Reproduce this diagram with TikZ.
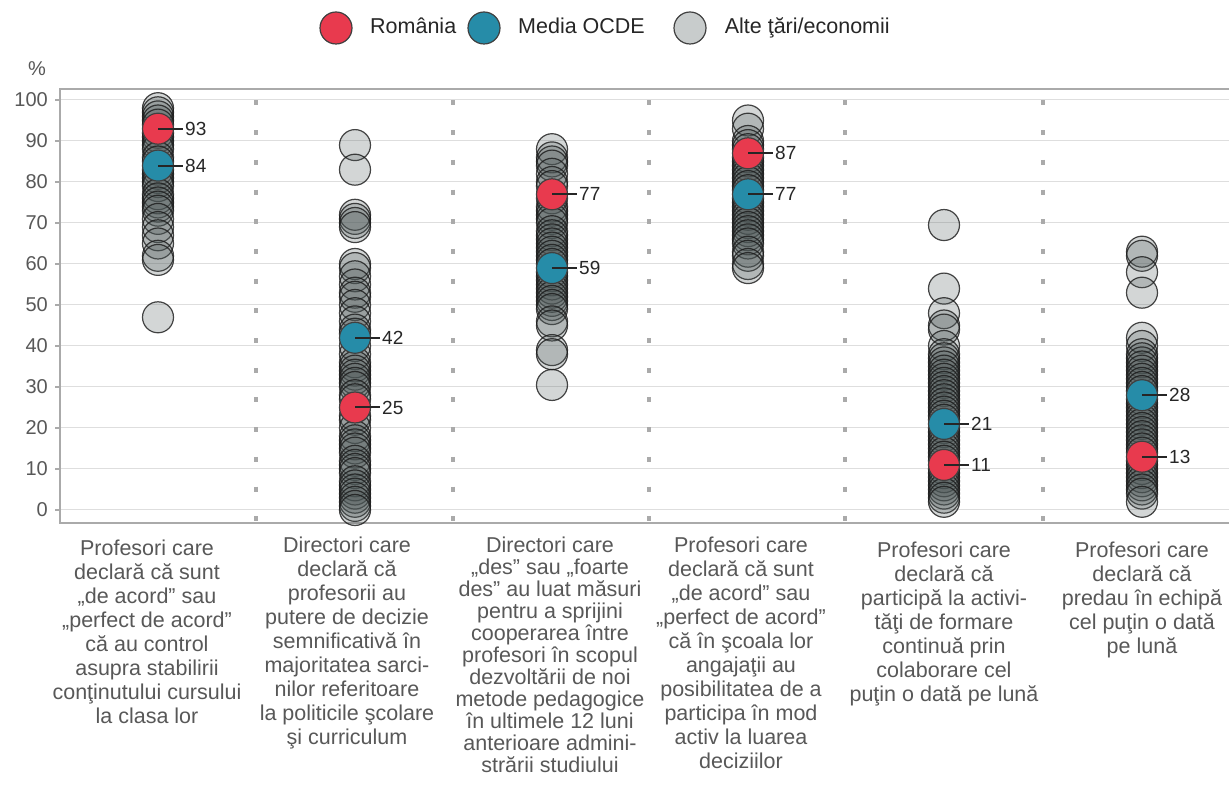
\documentclass[tikz,border=0pt]{standalone}
\usepackage{fontspec}
\setmainfont{Liberation Sans}
\usetikzlibrary{positioning}

\definecolor{rored}{RGB}{232,58,78}
\definecolor{oecdblue}{RGB}{38,140,168}
\definecolor{othgray}{RGB}{75,85,85}
\definecolor{leggray}{RGB}{200,204,204}
\definecolor{txtgray}{RGB}{88,88,88}
\definecolor{gridgray}{RGB}{222,222,222}
\definecolor{framegray}{RGB}{170,170,170}

\begin{document}
\begin{tikzpicture}[x=1pt, y=1pt,
  other/.style={circle, minimum size=31pt, inner sep=0pt, outer sep=0pt, fill=othgray, fill opacity=0.24, draw=black!90, draw opacity=0.8, line width=1.2pt},
  ro/.style={circle, minimum size=31pt, inner sep=0pt, outer sep=0pt, fill=rored, draw=black!75, line width=1.2pt},
  oecd/.style={circle, minimum size=31pt, inner sep=0pt, outer sep=0pt, fill=oecdblue, draw=black!75, line width=1.2pt},
  legdot/.style={minimum size=32pt},
  legtxt/.style={font=\fontsize{21.5}{24}\selectfont, text=black!85, inner sep=0pt, text height=15pt, text depth=4pt},
  val/.style={font=\fontsize{19}{22}\selectfont, text=black!85, inner sep=2pt},
  valline/.style={line width=2pt, black!85},
  ylab/.style={font=\fontsize{20}{24}\selectfont, text=txtgray, anchor=east, inner sep=0pt},
  catlab/.style={font=\fontsize{21.5}{24}\selectfont, text=txtgray, align=center, anchor=north, inner sep=0pt},
  gridline/.style={gridgray, line width=1pt},
  plotframe/.style={framegray, line width=1.5pt},
  dotsep/.style={framegray, line width=4pt, dash pattern=on 5pt off 24.7pt}
]
\useasboundingbox (0,0) rectangle (1229,793);
\fill[white] (0,0) rectangle (1229,793);

% legend
\node[ro, legdot] (legro) at (336,765) {};
\node[legtxt, right=18pt of legro] (legrot) {România};
\node[oecd, legdot] (legoecd) at (484,765) {};
\node[legtxt, right=18pt of legoecd] (legoecdt) {Media OCDE};
\node[circle, legdot, inner sep=0pt, fill=leggray, draw=black!75, line width=1.2pt] (legoth) at (690,765) {};
\node[legtxt, right=18pt of legoth] (legotht) {Alte ţări/economii};

\node[ylab, anchor=center] (pct) at (37,724) {\%};

% axes and grid
\begin{scope}[y=4.1pt, yshift=283pt]
  \foreach \v in {0,10,...,100} {
    \draw[gridline] (60,\v) -- (1229,\v);
    \draw[plotframe] (55,\v) -- (60,\v);
    \node[ylab] (ylab\v) at (48,\v) {\v};
  }
\end{scope}
\draw[plotframe] (1229,704) -- (60,704) -- (60,270) -- (1229,270);
\foreach \sx in {256,453,649,845,1043}
  \draw[dotsep] (\sx,692.5) -- (\sx,272);

% other countries
\begin{scope}[y=4.1pt, yshift=283pt]
  \foreach \v [count=\i] in {98,97,96,95,94,92,91,90,89,88,86,85,83,82,81,80,79,77,76,75,74,73,71,69,67,65,62,61,47}
    \node[other] (a\i) at (158,\v) {};
  \foreach \v [count=\i] in {89,83,72,71,70,69,60,59,57,55,53,52,50,48,46,44,43,40,38,36,35,34,33,32,31,30,28,27,23,22,20,18,17,16,15,14,12,11,10,9,7,6,5,4,3,2,1,0}
    \node[other] (b\i) at (355,\v) {};
  \foreach \v [count=\i] in {88,86,85,84,82,80,79,76,74,73,72,71,70,68,67,66,65,64,63,62,61,60,58,57,56,55,54,53,52,51,50,49,46,45,39,38,30.5}
    \node[other] (c\i) at (552,\v) {};
  \foreach \v [count=\i] in {95,93,90,89,88,86,85,84,83,82,81,80,79,78,76,75,74,73,72,71,70,69,68,67,66,65,63,62,60,59}
    \node[other] (d\i) at (748,\v) {};
  \foreach \v [count=\i] in {69.5,54,48,45,44,40,38,37,36,35,34,33,32,31,30,29,28,27,26,25,24,23,22,20,19,18,17,16,15,14,13,12,10,9,8,7,6,5,4,3,2}
    \node[other] (e\i) at (944,\v) {};
  \foreach \v [count=\i] in {63,62,58,53,42,40,38,37,36,35,34,33,32,31,30,29,27,26,25,24,23,22,21,20,19,18,17,16,15,14,12,11,10,9,8,7,6,5,4,2}
    \node[other] (f\i) at (1142,\v) {};

  % Romania and OECD
  \node[ro] (ro1) at (158,93) {};
  \node[oecd] (oecd1) at (158,84) {};
  \node[oecd] (oecd2) at (355,42) {};
  \node[ro] (ro2) at (355,25) {};
  \node[ro] (ro3) at (552,77) {};
  \node[oecd] (oecd3) at (552,59) {};
  \node[ro] (ro4) at (748,87) {};
  \node[oecd] (oecd4) at (748,77) {};
  \node[oecd] (oecd5) at (944,21) {};
  \node[ro] (ro5) at (944,11) {};
  \node[oecd] (oecd6) at (1142,28) {};
  \node[ro] (ro6) at (1142,13) {};

  \node[val, right=25pt of ro1.center] (ro1v) {93};
  \node[val, right=25pt of oecd1.center] (oecd1v) {84};
  \node[val, right=25pt of oecd2.center] (oecd2v) {42};
  \node[val, right=25pt of ro2.center] (ro2v) {25};
  \node[val, right=25pt of ro3.center] (ro3v) {77};
  \node[val, right=25pt of oecd3.center] (oecd3v) {59};
  \node[val, right=25pt of ro4.center] (ro4v) {87};
  \node[val, right=25pt of oecd4.center] (oecd4v) {77};
  \node[val, right=25pt of oecd5.center] (oecd5v) {21};
  \node[val, right=25pt of ro5.center] (ro5v) {11};
  \node[val, right=25pt of oecd6.center] (oecd6v) {28};
  \node[val, right=25pt of ro6.center] (ro6v) {13};

  \foreach \m in {ro1,oecd1,oecd2,ro2,ro3,oecd3,ro4,oecd4,oecd5,ro5,oecd6,ro6}
    \draw[valline] (\m.center) -- (\m v.west);
\end{scope}

% category labels
\node[catlab] (cat1) at (147,253) {Profesori care\\declară că sunt\\„de acord” sau\\„perfect de acord”\\că au control\\asupra stabilirii\\conţinutului cursului\\la clasa lor};
\node[catlab] (cat2) at (347,256) {Directori care\\declară că\\profesorii au\\putere de decizie\\semnificativă în\\majoritatea sarci-\\nilor referitoare\\la politicile şcolare\\şi curriculum};
\node[catlab, font=\fontsize{21.5}{22}\selectfont] (cat3) at (550,256) {Directori care\\„des” sau „foarte\\des” au luat măsuri\\pentru a sprijini\\cooperarea între\\profesori în scopul\\dezvoltării de noi\\metode pedagogice\\în ultimele 12 luni\\anterioare admini-\\strării studiului};
\node[catlab] (cat4) at (741,256) {Profesori care\\declară că sunt\\„de acord” sau\\„perfect de acord”\\că în şcoala lor\\angajaţii au\\posibilitatea de a\\participa în mod\\activ la luarea\\deciziilor};
\node[catlab] (cat5) at (944,251) {Profesori care\\declară că\\participă la activi-\\tăţi de formare\\continuă prin\\colaborare cel\\puţin o dată pe lună};
\node[catlab] (cat6) at (1142,251) {Profesori care\\declară că\\predau în echipă\\cel puţin o dată\\pe lună};
\end{tikzpicture}
\end{document}
